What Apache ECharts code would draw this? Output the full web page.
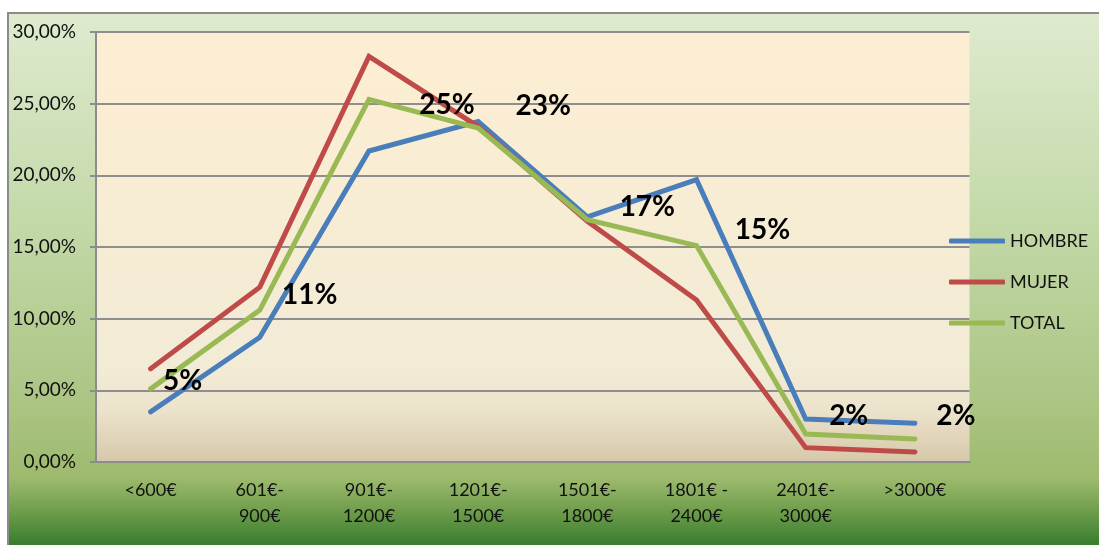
<!DOCTYPE html>
<html>
<head>
<meta charset="utf-8">
<script src="https://cdn.jsdelivr.net/npm/echarts@6/dist/echarts.min.js"></script>
<style>
    html, body { margin: 0; padding: 0; background: #fff; }
    #main { width: 1099px; height: 545px; }
</style>
</head>
<body>
<div id="main"></div>
<script>
    // tramos de salario
    var categories = ['<600€', '601€-\n900€', '901€-\n1200€', '1201€-\n1500€', '1501€-\n1800€', '1801€ -\n2400€', '2401€-\n3000€', '>3000€'];
    // porcentajes (%)
    var hombre = [3.5, 8.7, 21.7, 23.75, 17.1, 19.7, 3.0, 2.7];
    var mujer = [6.5, 12.2, 28.3, 23.4, 16.8, 11.3, 1.0, 0.7];
    var total = [5.1, 10.6, 25.3, 23.3, 16.9, 15.1, 1.95, 1.6];
    var yTicks = [0, 5, 10, 15, 20, 25, 30];
    // desplazamiento de las etiquetas de TOTAL (px)
    var labelOffsets = [[32, -8], [50, -15], [78, 6], [65, -22], [60, -13], [66, -16], [43, -18], [41, -23]];

    var font = 'Lato, "Open Sans", sans-serif';

    var totalData = total.map(function (v, i) {
        return { value: v, label: { offset: labelOffsets[i] } };
    });

    var myChart = echarts.init(document.getElementById('main'));

    var option = {
        animation: false,
        graphic: [{
            type: 'rect',
            z: -10,
            shape: { x: 8, y: 13, width: 1100, height: 540 },
            style: {
                fill: new echarts.graphic.LinearGradient(0, 0, 0, 1, [
                    { offset: 0, color: '#dfeacf' },
                    { offset: 0.35, color: '#c6dbac' },
                    { offset: 0.73, color: '#abc482' },
                    { offset: 0.86, color: '#9dba6d' },
                    { offset: 0.92, color: '#6f9e4c' },
                    { offset: 1, color: '#2a7427' }
                ]),
                stroke: '#8c8c8c',
                lineWidth: 2
            }
        }],
        grid: {
            left: 96, right: 129.5, top: 32, bottom: 83,
            show: true,
            borderWidth: 0,
            backgroundColor: new echarts.graphic.LinearGradient(0, 0, 0, 1, [
                { offset: 0, color: '#fdeed2' },
                { offset: 0.78, color: '#f2ebd6' },
                { offset: 0.88, color: '#ece3cc' },
                { offset: 1, color: '#d6c8aa' }
            ])
        },
        legend: {
            orient: 'vertical',
            left: 949,
            top: 230,
            padding: 0,
            icon: 'roundRect',
            itemWidth: 56,
            itemHeight: 5,
            itemGap: 19,
            textStyle: { fontFamily: font, fontSize: 18, color: '#111', lineHeight: 22 },
            data: ['HOMBRE', 'MUJER', 'TOTAL']
        },
        xAxis: {
            type: 'category',
            data: categories,
            boundaryGap: true,
            axisLine: { lineStyle: { color: '#8c8c8c', width: 2 } },
            axisTick: { length: 6, lineStyle: { color: '#8c8c8c', width: 2 } },
            axisLabel: {
                interval: 0,
                margin: 15,
                color: '#111',
                fontFamily: font,
                fontSize: 18,
                lineHeight: 26
            }
        },
        yAxis: {
            type: 'value',
            min: yTicks[0],
            max: yTicks[yTicks.length - 1],
            interval: 5,
            axisLine: { show: true, lineStyle: { color: '#8c8c8c', width: 2 } },
            axisTick: { show: true, length: 6, lineStyle: { color: '#8c8c8c', width: 2 } },
            splitLine: { lineStyle: { color: '#8e8e8e', width: 2 } },
            axisLabel: {
                margin: 20,
                color: '#111',
                fontFamily: font,
                fontSize: 19,
                formatter: function (v) { return v.toFixed(2).replace('.', ',') + '%'; }
            }
        },
        series: [
            {
                name: 'HOMBRE', type: 'line', data: hombre,
                symbol: 'none',
                color: '#4a7ebb',
                lineStyle: { width: 5, color: '#4a7ebb', cap: 'round', join: 'miter' }
            },
            {
                name: 'MUJER', type: 'line', data: mujer,
                symbol: 'none',
                color: '#be4b48',
                lineStyle: { width: 5, color: '#be4b48', cap: 'round', join: 'miter' }
            },
            {
                name: 'TOTAL', type: 'line', data: totalData,
                symbol: 'circle', symbolSize: 2, showSymbol: true,
                color: '#98b954',
                itemStyle: { color: '#98b954' },
                lineStyle: { width: 5, color: '#98b954', cap: 'round', join: 'miter' },
                label: {
                    show: true,
                    position: 'inside',
                    color: '#000',
                    fontFamily: font,
                    fontWeight: 'bold',
                    fontSize: 28,
                    formatter: function (p) { return Math.round(p.value) + '%'; }
                }
            }
        ]
    };

    myChart.setOption(option);
</script>
</body>
</html>
